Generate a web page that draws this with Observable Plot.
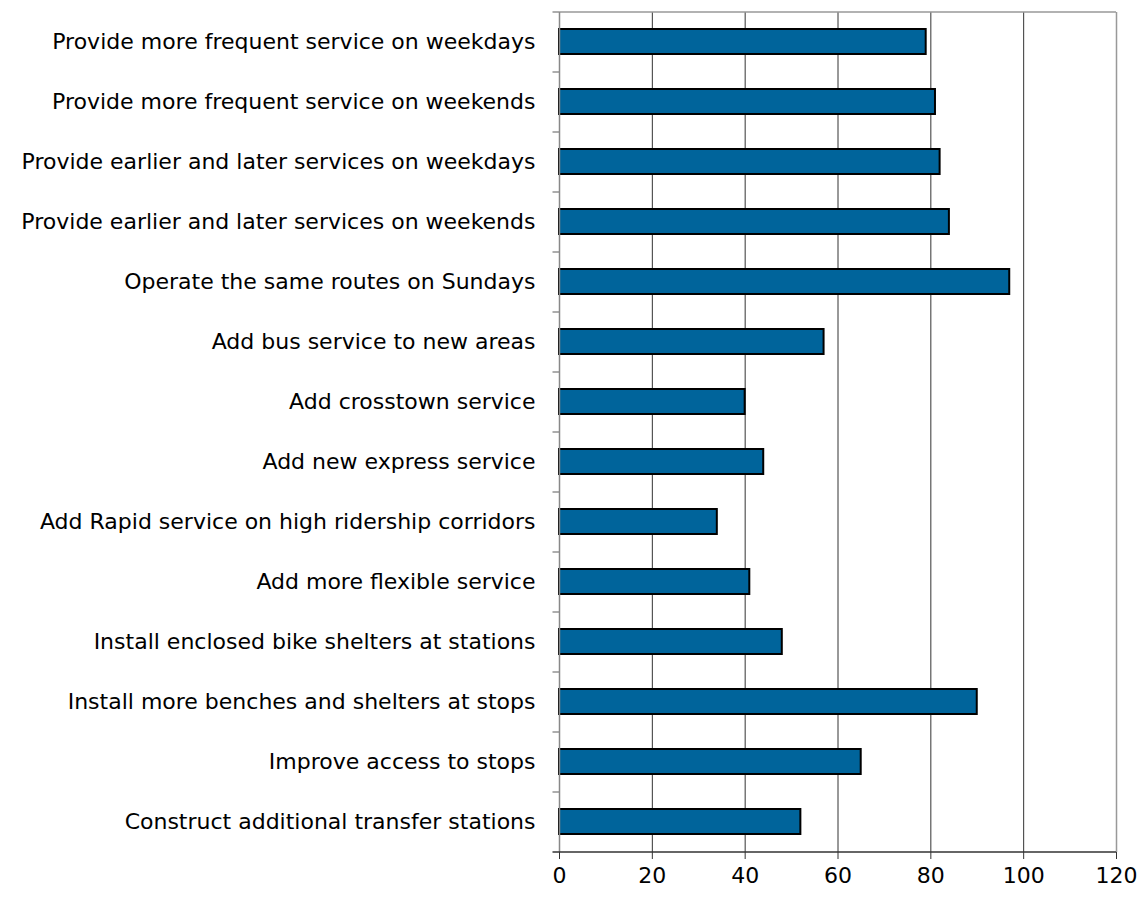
<!DOCTYPE html>
<html>
<head>
<meta charset="utf-8">
<script src="https://cdn.jsdelivr.net/npm/d3@7"></script>
<script src="https://cdn.jsdelivr.net/npm/@observablehq/plot@0.6"></script>
<style>
  body { margin: 0; background: #fff; }
  #chart svg { display: block; }
</style>
</head>
<body>
<div id="chart"></div>
<script>
const categories = [
  "Provide more frequent service on weekdays",
  "Provide more frequent service on weekends",
  "Provide earlier and later services on weekdays",
  "Provide earlier and later services on weekends",
  "Operate the same routes on Sundays",
  "Add bus service to new areas",
  "Add crosstown service",
  "Add new express service",
  "Add Rapid service on high ridership corridors",
  "Add more flexible service",
  "Install enclosed bike shelters at stations",
  "Install more benches and shelters at stops",
  "Improve access to stops",
  "Construct additional transfer stations"
];
const values = [79, 81, 82, 84, 97, 57, 40, 44, 34, 41, 48, 90, 65, 52];
const xTicks = [0, 20, 40, 60, 80, 100, 120];
const gridTicks = [20, 40, 60, 80, 100];

const data = categories.map((c, i) => ({category: c, value: values[i]}));

const W = 1141, H = 897;
const mL = 559, mR = 25, mT = 12, mB = 45;
const band = (H - mT - mB) / categories.length;

const chart = Plot.plot({
  width: W,
  height: H,
  marginLeft: mL,
  marginRight: mR,
  marginTop: mT,
  marginBottom: mB,
  style: {fontFamily: "'DejaVu Sans', sans-serif", fontSize: "22px", color: "#000", background: "#fff"},
  x: {domain: [0, 120], ticks: xTicks, label: null},
  y: {domain: categories, paddingInner: 0.58, paddingOuter: 0.29, label: null},
  marks: [
    Plot.ruleX(gridTicks, {stroke: "#333", strokeWidth: 1}),
    Plot.ruleX([120], {stroke: "#999", strokeWidth: 1.5}),
    Plot.ruleY([categories[0]], {y: d => d, x1: 0, x2: 120, dy: -band / 2, stroke: "#999", strokeWidth: 1.5}),
    Plot.ruleY(categories, {y: d => d, x1: -1.4, x2: 0, dy: -band / 2, stroke: "#777", strokeWidth: 1.2, clip: false}),
    Plot.barX(data, {y: "category", x: "value", fill: "#00649b", stroke: "#000", strokeWidth: 2}),
    Plot.ruleX([0], {stroke: "#888", strokeWidth: 1.5}),
    Plot.axisX({ticks: xTicks, tickSize: 7, tickPadding: 8, fontSize: 22, stroke: "#333", label: null, tickFormat: d => String(d)}),
    Plot.ruleY([categories[categories.length - 1]], {y: d => d, x1: -1.4, x2: 120, dy: band / 2, stroke: "#333", strokeWidth: 1.5}),
    Plot.axisY({tickSize: 0, tickPadding: 24, fontSize: 22, label: null})
  ]
});

document.getElementById("chart").appendChild(chart);
</script>
</body>
</html>
